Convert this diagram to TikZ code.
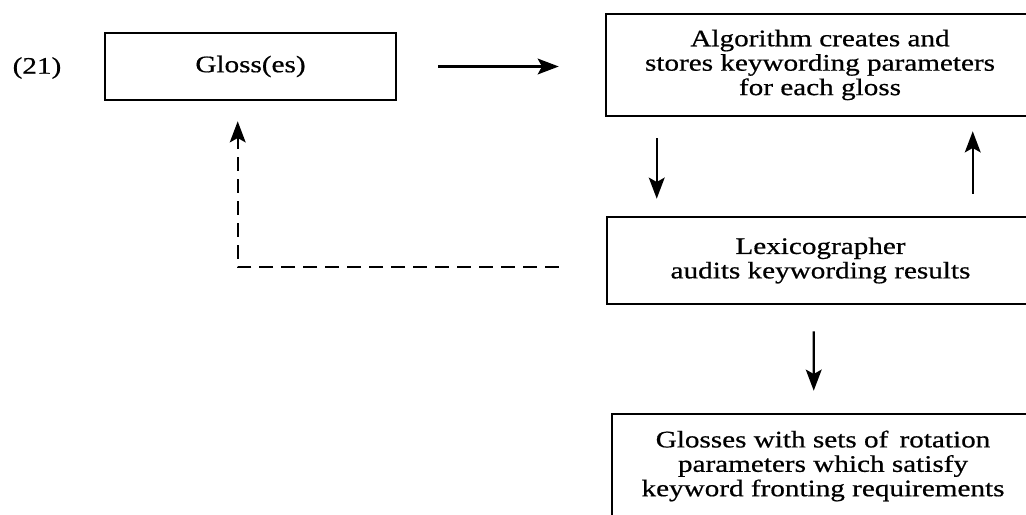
\documentclass[tikz,border=0pt]{standalone}
\usepackage{fontspec}
\setmainfont{Liberation Serif}[FakeStretch=1.23, FakeBold=0.6]
\usetikzlibrary{arrows.meta,calc}

\tikzset{
    txt/.style={font=\fontsize{13.5}{13.9}\selectfont},
    box/.style={txt, draw, line width=1.5pt, align=center, inner sep=0pt},
    arr/.style={-{Stealth[length=12pt,width=9pt,inset=2.5pt]}, line width=1.2pt},
}

\begin{document}
\begin{tikzpicture}[x=0.02cm, y=-0.02cm]
    \useasboundingbox (0,0) rectangle (1026,514);
    \clip (0,0) rectangle (1026,514);
    \fill[white] (0,0) rectangle (1026,514);
    % boxes
    \node[txt] (num) at (37, 68) {(21)};
    \node[box, minimum width=5.82cm, minimum height=1.34cm] (gloss) at (250.5, 66.5) {Gloss(es)};
    \node[box, minimum width=8.56cm, minimum height=2.04cm] (alg) at (820, 65)
        {Algorithm creates and\\stores keywording parameters\\for each gloss};
    \node[box, minimum width=8.54cm, minimum height=1.74cm] (lex) at (820.5, 260.5)
        {Lexicographer\\audits keywording results};
    \node[box, minimum width=8.44cm, minimum height=2.08cm] (res) at (823, 466)
        {Glosses with sets of\, rotation\\parameters which satisfy\\keyword fronting requirements};
    % arrows
    \draw[arr, shorten <=0.82cm, shorten >=0.92cm] (gloss.east) -- (gloss.east -| alg.west);
    \draw[arr, shorten <=0.42cm, shorten >=0.34cm] ($(alg.south west)+(52,0)$) -- ($(lex.north west)+(51,0)$);
    \draw[arr, shorten <=0.44cm, shorten >=0.28cm] ($(lex.north west)+(367,0)$) -- ($(alg.south west)+(368,0)$);
    \draw[arr, shorten <=0.52cm, shorten >=0.44cm] ($(lex.south west)+(208,0)$) -- ($(res.north west)+(203,0)$);
    \draw[arr, dash pattern=on 8pt off 4.5pt, shorten <=0.94cm, shorten >=0.4cm]
        ($(lex.west)+(0,6.5)$) -| ($(gloss.south west)+(134,0)$);
\end{tikzpicture}
\end{document}
